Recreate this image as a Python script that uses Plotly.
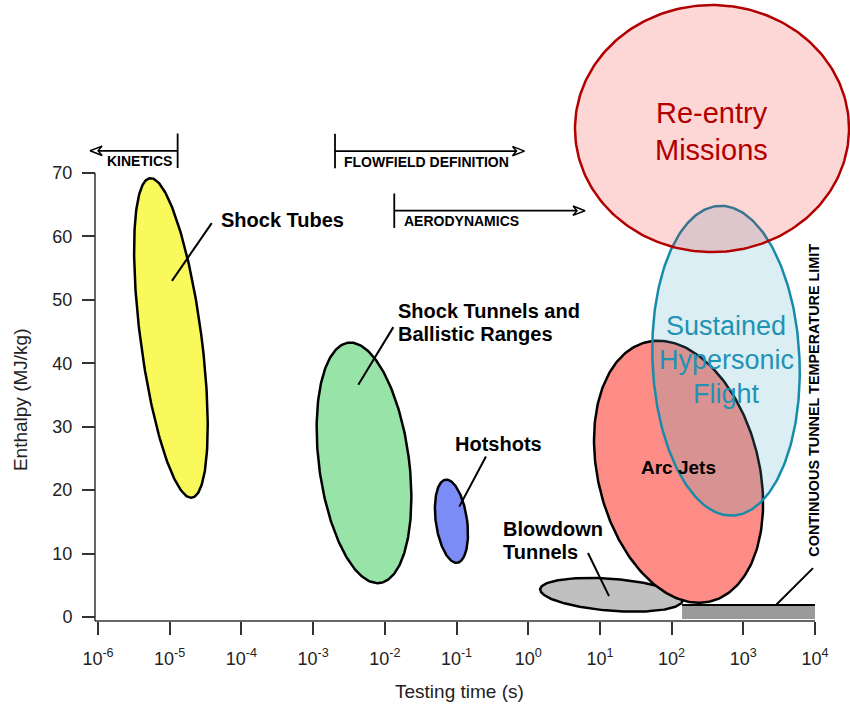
import numpy as np
import plotly.graph_objects as go

# ---------------- data ----------------
# Facility / mission envelopes: centre (testing time [s], enthalpy [MJ/kg]),
# half width in decades of time, half height in MJ/kg, screen tilt in degrees
ENV_NAMES = ["Shock Tubes", "Shock Tunnels and Ballistic Ranges", "Hotshots",
             "Blowdown Tunnels", "Arc Jets", "Sustained Hypersonic Flight",
             "Re-entry Missions"]
ENV_TIME = [1.04e-5, 5.13e-3, 8.5e-2, 14.5, 125.0, 574.0, 366.0]
ENV_ENTHALPY = [44.0, 24.3, 15.1, 3.5, 22.9, 40.4, 77.0]
ENV_HALF_DEC = [0.425, 0.628, 0.218, 0.997, 1.123, 1.025, 1.911]
ENV_HALF_MJ = [25.4, 19.1, 6.62, 2.52, 21.05, 24.44, 19.47]
ENV_TILT = [7.5, 7.5, 8.0, -4.5, 14.0, 2.5, 0.0]

# Continuous tunnel temperature limit
LIMIT_T_START = 140.0
LIMIT_T_END = 1e4
LIMIT_H = 1.9

# Regime brackets: (bar time, shaft enthalpy, tip time)
REGIME_NAMES = ["KINETICS", "FLOWFIELD DEFINITION", "AERODYNAMICS"]
REGIME_BAR_T = [1.29e-5, 2.02e-3, 1.355e-2]
REGIME_H = [73.5, 73.45, 64.05]
REGIME_TIP_T = [7.76e-7, 0.887, 6.19]

# Axis ticks
X_TICKS = [1e-6, 1e-5, 1e-4, 1e-3, 1e-2, 1e-1, 1e0, 1e1, 1e2, 1e3, 1e4]
X_TICK_TEXT = ["10<sup>%d</sup>" % e for e in range(-6, 5)]
Y_TICKS = [0, 10, 20, 30, 40, 50, 60, 70]

# ---------------- layout constants ----------------
W, H = 850, 704
M_L, M_R, M_T, M_B = 80, 0, 0, 83
X_RANGE = [-6.251, 4.488]
Y_RANGE = [-0.63, 97.27]
PLOT_W = W - M_L - M_R
PLOT_H = H - M_T - M_B
PX_PER_DEC = PLOT_W / (X_RANGE[1] - X_RANGE[0])
PX_PER_MJ = PLOT_H / (Y_RANGE[1] - Y_RANGE[0])
YAX_POS = 15 / PLOT_W
AX_COLOR = "#333333"
FONT = "Arial, Liberation Sans, sans-serif"

FILLS = ["#f9f95c", "#97e3a8", "#7b8cf7", "#c0c0c0", "#fc8c85",
         "rgba(75,172,198,0.2)", "rgba(243,0,0,0.16)"]
LINES = ["black", "black", "black", "black", "black", "#178ca9", "#b20000"]


def ellipse(tc, hc, half_dec, half_mj, tilt, n=241):
    th = np.linspace(0, 2 * np.pi, n)
    px = half_dec * PX_PER_DEC * np.cos(th)
    py = half_mj * PX_PER_MJ * np.sin(th)
    a = np.radians(tilt)
    rx = px * np.cos(a) - py * np.sin(a)
    ry = px * np.sin(a) + py * np.cos(a)
    return 10 ** (np.log10(tc) + rx / PX_PER_DEC), hc + ry / PX_PER_MJ


def arrow_head(tip_t, h, direction):
    # open notched head, 12 px long, +/-4.7 px high
    lt = np.log10(tip_t)
    back = lt - direction * 12 / PX_PER_DEC
    notch = lt - direction * 8 / PX_PER_DEC
    dh = 4.7 / PX_PER_MJ
    xs = [10 ** back, 10 ** lt, 10 ** back, 10 ** notch, 10 ** back]
    ys = [h + dh, h, h - dh, h, h + dh]
    return xs, ys, 10 ** notch


fig = go.Figure()

for i in range(len(ENV_NAMES)):
    ex, ey = ellipse(ENV_TIME[i], ENV_ENTHALPY[i], ENV_HALF_DEC[i],
                     ENV_HALF_MJ[i], ENV_TILT[i])
    fig.add_trace(go.Scatter(
        x=ex, y=ey, mode="lines", fill="toself", fillcolor=FILLS[i],
        line=dict(color=LINES[i], width=2.5), name=ENV_NAMES[i],
        hoverinfo="name", showlegend=False))

shapes = []
# temperature-limit band
shapes.append(dict(type="rect", xref="x", yref="y", x0=LIMIT_T_START, x1=LIMIT_T_END,
                   y0=-0.3, y1=LIMIT_H, fillcolor="#9a9a9a", line=dict(width=0),
                   layer="above"))
shapes.append(dict(type="line", xref="x", yref="y", x0=LIMIT_T_START, x1=LIMIT_T_END,
                   y0=LIMIT_H, y1=LIMIT_H, line=dict(color="black", width=2)))

# regime brackets with arrows
for i in range(len(REGIME_NAMES)):
    h = REGIME_H[i]
    direction = 1 if REGIME_TIP_T[i] > REGIME_BAR_T[i] else -1
    hx, hy, shaft_end = arrow_head(REGIME_TIP_T[i], h, direction)
    half_bar = 2.72
    shapes.append(dict(type="line", xref="x", yref="y", x0=REGIME_BAR_T[i], x1=REGIME_BAR_T[i],
                       y0=h - half_bar, y1=h + half_bar, line=dict(color="black", width=1.8)))
    shapes.append(dict(type="line", xref="x", yref="y", x0=REGIME_BAR_T[i], x1=shaft_end,
                       y0=h, y1=h, line=dict(color="black", width=1.8)))
    fig.add_trace(go.Scatter(x=hx, y=hy, mode="lines", fill="toself", fillcolor="white",
                             line=dict(color="black", width=1.5), hoverinfo="skip",
                             showlegend=False))

# leader lines from labels to regions
LEADERS = [((1.076e-5, 53.0), (3.855e-5, 62.1)),
           ((4.27e-3, 36.6), (1.315e-2, 45.7)),
           ((0.1094, 17.4), (0.2576, 25.3)),
           ((6.82, 10.1), (13.4, 3.3)),
           ((2858, LIMIT_H), (9376, 7.7))]
for (a, b) in LEADERS:
    shapes.append(dict(type="line", xref="x", yref="y", x0=a[0], y0=a[1], x1=b[0], y1=b[1],
                       line=dict(color="black", width=2)))

# axis lines (the enthalpy axis stops at 70)
x_left = 10 ** (X_RANGE[0] + YAX_POS * (X_RANGE[1] - X_RANGE[0]))
shapes.append(dict(type="line", xref="paper", yref="y", x0=YAX_POS, x1=YAX_POS,
                   y0=Y_RANGE[0], y1=70, line=dict(color=AX_COLOR, width=1.5)))
shapes.append(dict(type="line", xref="x", yref="paper", x0=x_left, x1=1e4,
                   y0=0, y1=0, line=dict(color=AX_COLOR, width=1.5)))

ann = []


def label(text, t, h, size, color="black", bold=True, xanchor="center", angle=0):
    ann.append(dict(text=("<b>%s</b>" % text) if bold else text, x=np.log10(t), y=h,
                    xref="x", yref="y", showarrow=False, xanchor=xanchor, yanchor="middle",
                    textangle=angle, font=dict(family=FONT, size=size, color=color)))


label("Shock Tubes", 10 ** -4.312, 62.6, 20, xanchor="left")
label("Shock Tunnels and", 10 ** -1.844, 48.2, 20, xanchor="left")
label("Ballistic Ranges", 10 ** -1.844, 44.6, 20, xanchor="left")
label("Hotshots", 10 ** -1.049, 27.3, 20, xanchor="left")
label("Blowdown", 10 ** -0.379, 13.9, 20, xanchor="left")
label("Tunnels", 10 ** -0.379, 10.2, 20, xanchor="left")
label("Arc Jets", 10 ** 2.103, 23.5, 19)
label("Re-entry", 10 ** 2.563, 79.4, 29, color="#b20000", bold=False)
label("Missions", 10 ** 2.563, 73.7, 29, color="#b20000", bold=False)
label("Sustained", 10 ** 2.765, 45.8, 27, color="#1f93b4", bold=False)
label("Hypersonic", 10 ** 2.765, 40.5, 27, color="#1f93b4", bold=False)
label("Flight", 10 ** 2.765, 35.1, 27, color="#1f93b4", bold=False)
label("KINETICS", 10 ** -4.936, 71.9, 14, xanchor="right")
label("FLOWFIELD DEFINITION", 10 ** -2.601, 71.8, 14, xanchor="left")
label("AERODYNAMICS", 10 ** -1.764, 62.4, 14, xanchor="left")
label("CONTINUOUS TUNNEL TEMPERATURE LIMIT", 10 ** 3.986, 34.1, 14.4, angle=-90)

# axis titles
ann.append(dict(text="Testing time (s)", x=-0.965, y=-(691.5 - PLOT_H) / PLOT_H,
                xref="x", yref="paper", showarrow=False, xanchor="center",
                yanchor="middle", font=dict(family=FONT, size=19, color="#222")))
ann.append(dict(text="Enthalpy (MJ/kg)", x=(20 - M_L) / PLOT_W, y=34.2, xref="paper",
                yref="y", showarrow=False, xanchor="center", yanchor="middle",
                textangle=-90, font=dict(family=FONT, size=19, color="#222")))

fig.update_layout(
    width=W, height=H, margin=dict(l=M_L, r=M_R, t=M_T, b=M_B),
    paper_bgcolor="white", plot_bgcolor="white",
    shapes=shapes, annotations=ann, showlegend=False,
    xaxis=dict(type="log", range=X_RANGE, tickvals=X_TICKS, ticktext=X_TICK_TEXT,
               ticks="outside", ticklen=13, tickwidth=1.5, tickcolor=AX_COLOR,
               ticklabelstandoff=8,
               showgrid=False, zeroline=False, showline=False,
               tickfont=dict(family=FONT, size=18, color="#222")),
    yaxis=dict(range=Y_RANGE, tickvals=Y_TICKS, anchor="free", position=YAX_POS,
               ticks="outside", ticklen=13, tickwidth=1.5, tickcolor=AX_COLOR,
               ticklabelstandoff=6,
               showgrid=False, zeroline=False, showline=False,
               tickfont=dict(family=FONT, size=18, color="#222")),
)

fig.write_html("out.html")
